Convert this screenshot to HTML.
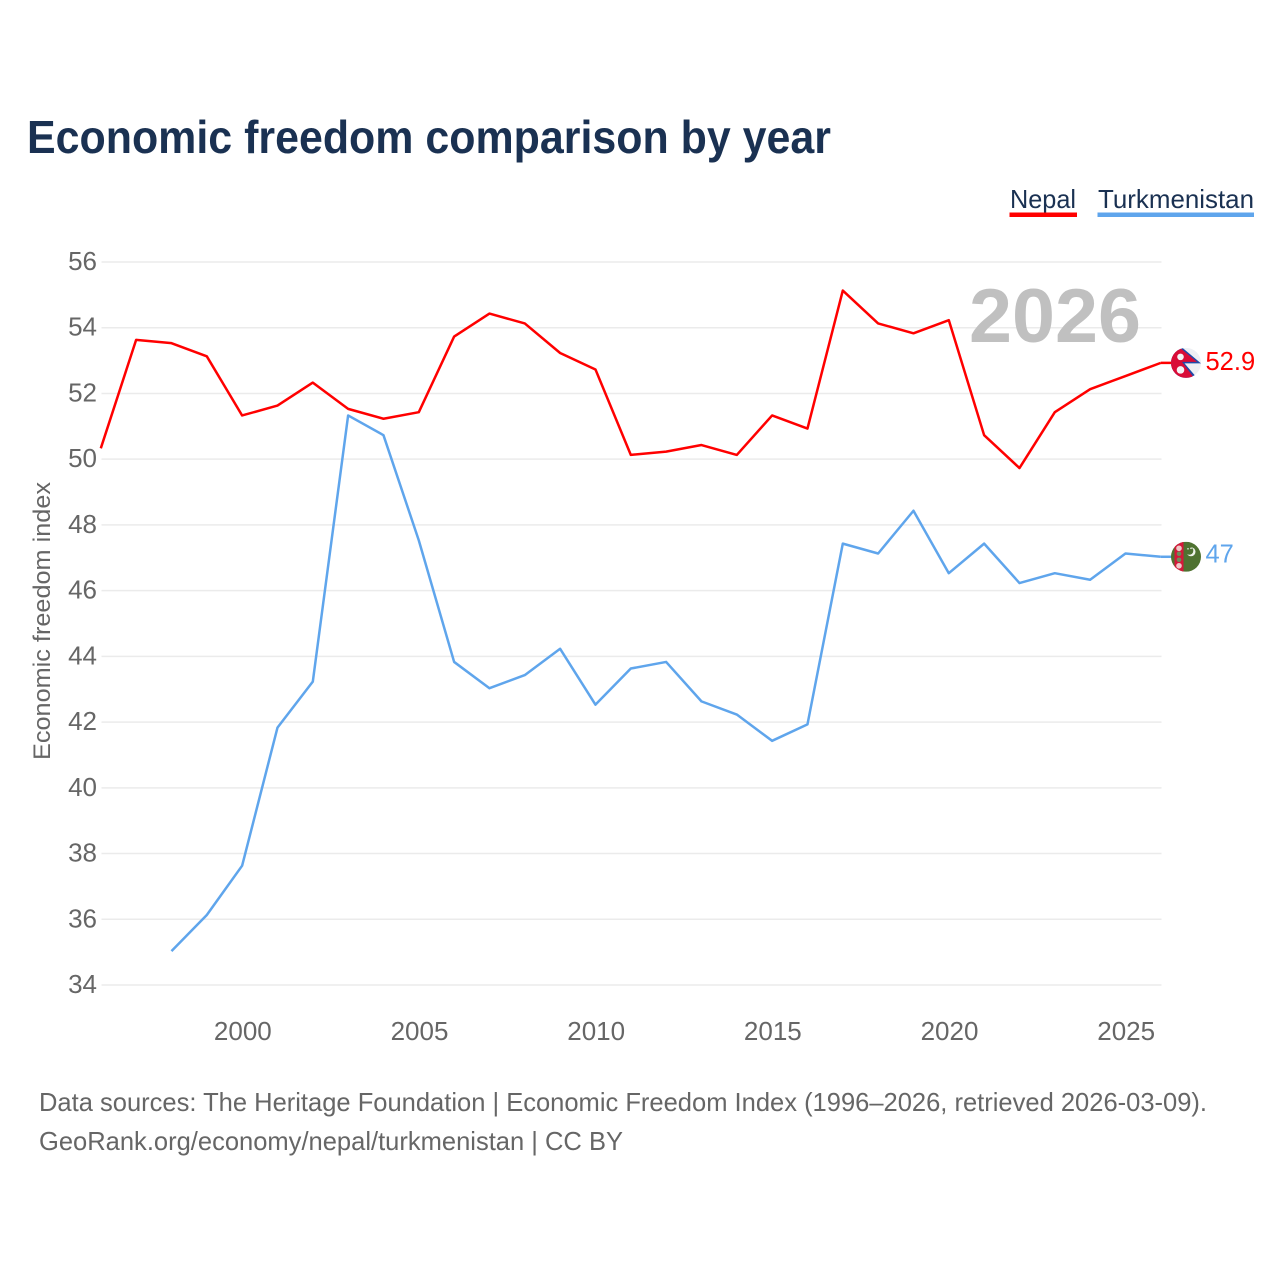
<!DOCTYPE html>
<html lang="en">
<head>
<meta charset="utf-8">
<title>Economic freedom comparison by year</title>
<style>
html,body{margin:0;padding:0;background:#fff;width:1280px;height:1280px;overflow:hidden}
svg{display:block;font-family:"Liberation Sans",sans-serif}
</style>
</head>
<body>
<svg id="chart" xmlns="http://www.w3.org/2000/svg" width="1280" height="1280" viewBox="0 0 1280 1280">
  <rect width="1280" height="1280" fill="#fff"/>
  <text x="27" y="153" font-size="46" font-weight="700" fill="#1a3152" textLength="804" lengthAdjust="spacingAndGlyphs">Economic freedom comparison by year</text>

  <g>
    <g>
      <text x="1010" y="208" font-size="26" fill="#1a3152" textLength="66" lengthAdjust="spacingAndGlyphs">Nepal</text>
      <rect x="1009.500" y="212.500" width="67.500" height="4.500" fill="#ff0000"/>
    </g>
    <g>
      <text x="1098" y="208" font-size="26" fill="#1a3152" textLength="156" lengthAdjust="spacingAndGlyphs">Turkmenistan</text>
      <rect x="1097.500" y="212.500" width="156.500" height="4.500" fill="#5fa5ec"/>
    </g>
  </g>

  <g id="grid"></g>
  <g id="yticks"></g>
  <g id="xticks"></g>
  <text transform="translate(50,621) rotate(-90)" text-anchor="middle" font-size="24.500" fill="#666" textLength="278" lengthAdjust="spacingAndGlyphs">Economic freedom index</text>
  <text id="year-watermark" x="969" y="342" font-size="76" font-weight="700" fill="#c0c0c0" textLength="172" lengthAdjust="spacingAndGlyphs">2026</text>

  <g id="series"></g>

  <g id="flag-nepal">
    <clipPath id="clip-np"><circle cx="0" cy="0" r="15"/></clipPath>
    <g clip-path="url(#clip-np)">
      <rect x="-15" y="-15" width="30" height="30" fill="#eef0f4"/>
      <path d="M-15,-15 L-3.500,-15 L15,0.500 L-1.500,0.500 L11,15 L-15,15 Z" fill="#1f4aa8"/>
      <path d="M-15,-15 L-6,-15 L11,-1 L-4,-1 L8,15 L-15,15 Z" fill="#d90c37"/>
      <circle cx="-5.500" cy="-6" r="3.300" fill="#f4f4f6"/>
      <circle cx="-5.500" cy="7" r="3.800" fill="#f4f4f6"/>
    </g>
  </g>
  <g id="flag-turkmenistan">
    <clipPath id="clip-tm"><circle cx="0" cy="0" r="15"/></clipPath>
    <g clip-path="url(#clip-tm)">
      <rect x="-15" y="-15" width="30" height="30" fill="#4f7231"/>
      <rect x="-11.500" y="-15" width="9" height="30" fill="#d4183a"/>
      <circle cx="-7" cy="-8.500" r="2.800" fill="#f0c8c8"/>
      <circle cx="-7" cy="-3" r="2.300" fill="#6f8a5a"/>
      <circle cx="-7" cy="3" r="2.300" fill="#6f8a5a"/>
      <circle cx="-7" cy="9" r="2.800" fill="#f0c8c8"/>
      <circle cx="5" cy="-5" r="4.500" fill="#eef2ea"/>
      <circle cx="3.300" cy="-6" r="4" fill="#4f7231"/>
      <circle cx="2" cy="-8" r="0.800" fill="#eef2ea"/>
      <circle cx="5" cy="-8.500" r="0.800" fill="#eef2ea"/>
    </g>
  </g>
  <text id="value-nepal" font-size="25.500" fill="#ff0000"></text>
  <text id="value-turkmenistan" font-size="25.500" fill="#5fa5ec"></text>

  <text x="39" y="1111" font-size="26" fill="#666" textLength="1168" lengthAdjust="spacingAndGlyphs">Data sources: The Heritage Foundation | Economic Freedom Index (1996–2026, retrieved 2026-03-09).</text>
  <text x="39" y="1150" font-size="26" fill="#666" textLength="584" lengthAdjust="spacingAndGlyphs">GeoRank.org/economy/nepal/turkmenistan | CC BY</text>
</svg>
<script>
const years = [1996,1997,1998,1999,2000,2001,2002,2003,2004,2005,2006,2007,2008,2009,2010,2011,2012,2013,2014,2015,2016,2017,2018,2019,2020,2021,2022,2023,2024,2025,2026];
const nepalValues = [50.3,53.6,53.5,53.1,51.3,51.6,52.3,51.5,51.2,51.4,53.7,54.4,54.1,53.2,52.7,50.1,50.2,50.4,50.1,51.3,50.9,55.1,54.1,53.8,54.2,50.7,49.7,51.4,52.1,52.5,52.9];
const turkmenistanValues = [null,null,35.0,36.1,37.6,41.8,43.2,51.3,50.7,47.5,43.8,43.0,43.4,44.2,42.5,43.6,43.8,42.6,42.2,41.4,41.9,47.4,47.1,48.4,46.5,47.4,46.2,46.5,46.3,47.1,47.0];
const yTickLabels = [34,36,38,40,42,44,46,48,50,52,54,56];
const xTickLabels = [2000,2005,2010,2015,2020,2025];

const NS = 'http://www.w3.org/2000/svg';
const xMin = 1996, xMax = 2026, yMin = 34, yMax = 56;
const plotLeft = 101.5, plotRight = 1161.5, plotTop = 262, plotBottom = 985;
const lineOffsetX = -0.7, lineOffsetY = -1;
function xScale(v) { return plotLeft + (v - xMin) / (xMax - xMin) * (plotRight - plotLeft); }
function yScale(v) { return plotBottom - (v - yMin) / (yMax - yMin) * (plotBottom - plotTop); }
function make(tag, attrs, parent, text) {
  const el = document.createElementNS(NS, tag);
  for (const k in attrs) el.setAttribute(k, attrs[k]);
  if (text !== undefined) el.textContent = text;
  parent.appendChild(el);
  return el;
}

const grid = document.getElementById('grid');
const yticks = document.getElementById('yticks');
yTickLabels.forEach(function (t) {
  const line = make('line', {x1: plotLeft, x2: plotRight, y1: yScale(t), y2: yScale(t), stroke: '#ebebeb', 'stroke-width': 1.5}, grid);
  
  
  const label = make('text', {x: 97, y: yScale(t) + 8, 'text-anchor': 'end', 'font-size': 26, fill: '#666'}, yticks, String(t));
  
  
});

const xticks = document.getElementById('xticks');
xTickLabels.forEach(function (t) {
  const label = make('text', {x: xScale(t), y: 1040, 'text-anchor': 'middle', 'font-size': 26, fill: '#666'}, xticks, String(t));
  
  
});

function buildPath(values) {
  let d = '';
  values.forEach(function (v, i) {
    if (v === null) return;
    d += (d ? 'L' : 'M') + (xScale(years[i]) + lineOffsetX).toFixed(2) + ',' + (yScale(v) + lineOffsetY).toFixed(2);
  });
  return d;
}
const series = document.getElementById('series');
const nepalLine = make('path', {d: buildPath(nepalValues), fill: 'none', stroke: '#ff0000', 'stroke-width': 2.5, 'stroke-linejoin': 'round'}, series);


const turkmenistanLine = make('path', {d: buildPath(turkmenistanValues), fill: 'none', stroke: '#5fa5ec', 'stroke-width': 2.5, 'stroke-linejoin': 'round'}, series);



function endMarker(values, flagId, valueId, connectorName, textDy) {
  const last = values[values.length - 1];
  const y = yScale(last) + lineOffsetY;
  const color = document.getElementById(valueId).getAttribute('fill');
  const conn = make('line', {x1: plotRight + lineOffsetX, x2: 1172, y1: y, y2: y, stroke: color, 'stroke-width': 2.5}, series);
  
  
  document.getElementById(flagId).setAttribute('transform', 'translate(1186,' + y.toFixed(2) + ')');
  const label = document.getElementById(valueId);
  label.setAttribute('x', 1205.500);
  label.setAttribute('y', (y + textDy).toFixed(2));
  label.textContent = String(last);
}
endMarker(nepalValues, 'flag-nepal', 'value-nepal', 'nepal-end-connector', 7);
endMarker(turkmenistanValues, 'flag-turkmenistan', 'value-turkmenistan', 'turkmenistan-end-connector', 5.500);
</script>
</body>
</html>
